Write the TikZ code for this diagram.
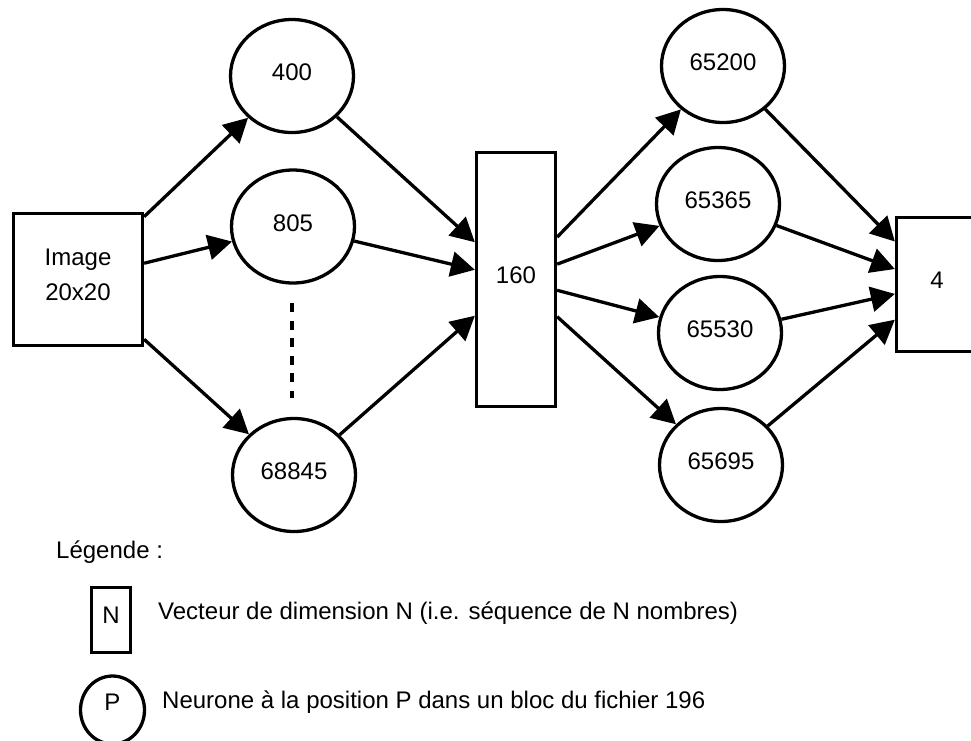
\documentclass[tikz,border=0pt]{standalone}
\usepackage{fontspec}
\setmainfont{Liberation Sans}
\usetikzlibrary{shapes.geometric,arrows.meta}

\begin{document}
\begin{tikzpicture}[x=1pt,y=-1pt,
    font=\fontsize{24}{35}\selectfont,
    neur/.style={draw,ellipse,line width=3.3pt,minimum width=123pt,minimum height=113pt,inner sep=0pt,text depth=7pt},
    vect/.style={draw,rectangle,line width=3.3pt,inner sep=0pt,text depth=9pt},
    arr/.style={line width=3.3pt,-{Triangle[length=24pt,width=25pt]}}]
    \useasboundingbox (0,0) rectangle (971,740);
    % entree
    \node[vect,minimum width=129pt,minimum height=132pt,align=center] (img) at (78,279.5) {Image\\20x20};
    % premier bloc
    \node[neur] (n400) at (292,76) {400};
    \node[neur] (n805) at (293,226.5) {805};
    \node[neur] (n68845) at (294,475) {68845};
    \coordinate (d1) at (292,303);
    \coordinate (d2) at (292,398);
    \draw[line width=3.6pt,dash pattern=on 9pt off 8.6pt] (d1)--(d2);
    % vecteur du milieu
    \node[vect,minimum width=79pt,minimum height=254pt] (b160) at (516,279.5) {160};
    % second bloc
    \node[neur] (n65200) at (723,66) {65200};
    \node[neur] (n65365) at (718,204) {65365};
    \node[neur] (n65530) at (720,333) {65530};
    \node[neur] (n65695) at (721,465) {65695};
    % sortie
    \node[vect,minimum width=81pt,minimum height=134pt] (b4) at (937,284.5) {4};
    \draw[arr] (img)--(n400);
    \draw[arr] (img)--(n805);
    \draw[arr] (img)--(n68845);
    \draw[arr] (n400)--(b160);
    \draw[arr] (n805)--(b160);
    \draw[arr] (n68845)--(b160);
    \draw[arr] (b160)--(n65200);
    \draw[arr] (b160)--(n65365);
    \draw[arr] (b160)--(n65530);
    \draw[arr] (b160)--(n65695);
    \draw[arr] (n65200)--(b4);
    \draw[arr] (n65365)--(b4);
    \draw[arr] (n65530)--(b4);
    \draw[arr] (n65695)--(b4);
    % legende
    \node[anchor=west,inner sep=0pt] (leg) at (56,552) {Légende :};
    \node[vect,minimum width=39pt,minimum height=65pt,text depth=10pt] (legN) at (111,620) {N};
    \node[anchor=west,inner sep=0pt] (legNtxt) at (158,613) {Vecteur de dimension N (i.e. séquence de N nombres)};
    \node[draw,ellipse,line width=3.3pt,minimum width=64pt,minimum height=68pt,inner sep=0pt] (legP) at (112.5,710) {};
    \node (legPlbl) at (112.5,702) {P};
    \node[anchor=west,inner sep=0pt] (legPtxt) at (162,702) {Neurone à la position P dans un bloc du fichier 196};
\end{tikzpicture}
\end{document}
